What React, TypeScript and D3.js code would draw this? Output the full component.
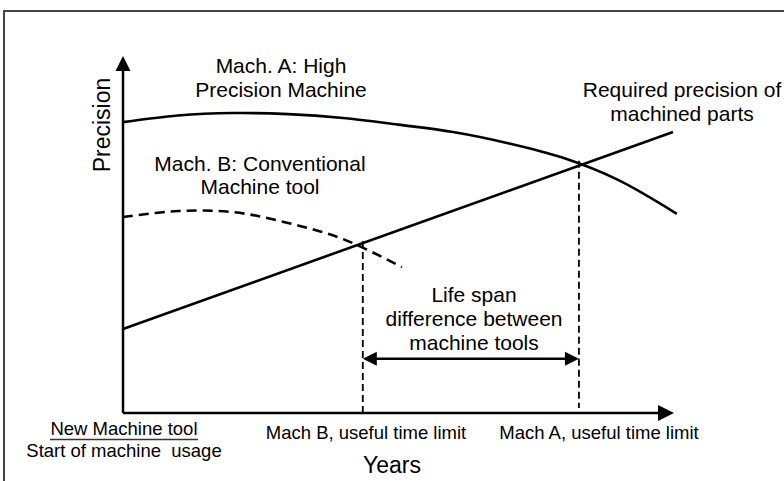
import React from 'react'
import * as d3 from 'd3'

// schematic values (x: years, y: precision, arbitrary units 0..10)
const yearsA = [0, 1, 2, 3, 4, 5, 6, 7, 8, 9, 10.07]
const precisionA = [8.31, 8.5, 8.57, 8.54, 8.43, 8.24, 8.03, 7.71, 7.29, 6.66, 5.69]
const yearsB = [0, 1, 2, 3, 4, 5.07]
const precisionB = [5.6, 5.77, 5.74, 5.43, 4.97, 4.17]
const yearsRequired = [0, 10]
const precisionRequired = [2.4, 8.03]
const limitB = 4.36
const limitA = 8.29
const spanLevel = 1.55

const W = 784
const H = 481
const FONT = "'Liberation Sans', Arial, sans-serif"

export default function App() {
  const x = d3.scaleLinear().domain([0, 10]).range([123, 673])
  const y = d3.scaleLinear().domain([0, 10]).range([413, 63])

  const line = d3.line<[number, number]>()
    .x(d => x(d[0]))
    .y(d => y(d[1]))
    .curve(d3.curveCatmullRom.alpha(0.5))

  const ptsA = yearsA.map((v, i) => [v, precisionA[i]] as [number, number])
  const ptsB = yearsB.map((v, i) => [v, precisionB[i]] as [number, number])
  const ptsR = yearsRequired.map((v, i) => [v, precisionRequired[i]] as [number, number])

  const reqAt = (t: number) =>
    precisionRequired[0] + (precisionRequired[1] - precisionRequired[0]) * (t - yearsRequired[0]) / (yearsRequired[1] - yearsRequired[0])

  const x0 = x(0), y0 = y(0)
  const yTop = 56, xEnd = 674
  const sy = y(spanLevel)
  const xa = x(limitA), xb = x(limitB)

  const txt = { fontFamily: FONT, fill: '#000' }

  return (
    <svg width={W} height={H} style={{ position: 'absolute', left: 0, top: 0 }}>
      <rect width={W} height={H} fill="#fff" />
      <path d={`M4,${H} V11 H${W}`} fill="none" stroke="#444" strokeWidth={2} />

      {/* axes */}
      <line x1={x0} y1={y0} x2={x0} y2={yTop + 14} stroke="#000" strokeWidth={2.5} />
      <polygon points={`${x0},${yTop} ${x0 - 7.5},${yTop + 15} ${x0 + 7.5},${yTop + 15}`} fill="#000" />
      <line x1={x0} y1={y0} x2={xEnd - 14} y2={y0} stroke="#000" strokeWidth={2.5} />
      <polygon points={`${xEnd},${y0} ${xEnd - 16},${y0 - 8} ${xEnd - 16},${y0 + 8}`} fill="#000" />

      {/* vertical limits */}
      <line x1={xb} y1={y(reqAt(limitB)) - 2} x2={xb} y2={y0} stroke="#000" strokeWidth={1.8} strokeDasharray="7,4" />
      <line x1={xa} y1={y(reqAt(limitA)) - 5} x2={xa} y2={y0 - 5} stroke="#000" strokeWidth={1.8} strokeDasharray="7,4" />

      {/* curves */}
      <path d={line(ptsA) || ''} fill="none" stroke="#000" strokeWidth={2.6} />
      <path d={line(ptsB) || ''} fill="none" stroke="#000" strokeWidth={2.6} strokeDasharray="10,6" />
      <path d={line(ptsR) || ''} fill="none" stroke="#000" strokeWidth={2.6} />

      {/* life span double arrow */}
      <line x1={xb + 12} y1={sy} x2={xa - 12} y2={sy} stroke="#000" strokeWidth={2.5} />
      <polygon points={`${xb},${sy} ${xb + 14},${sy - 7} ${xb + 14},${sy + 7}`} fill="#000" />
      <polygon points={`${xa},${sy} ${xa - 14},${sy - 7} ${xa - 14},${sy + 7}`} fill="#000" />

      {/* annotations */}
      <g {...txt} fontSize={21} textAnchor="middle">
        <text x={281} y={73}>Mach. A: High</text>
        <text x={281} y={97}>Precision Machine</text>
        <text x={260} y={171}>Mach. B: Conventional</text>
        <text x={260} y={194}>Machine tool</text>
        <text x={682} y={97}>Required precision of</text>
        <text x={682} y={121}>machined parts</text>
        <text x={474} y={302}>Life span</text>
        <text x={474} y={326}>difference between</text>
        <text x={474} y={350}>machine tools</text>
      </g>

      <g {...txt} fontSize={18.5} textAnchor="middle">
        <text x={124} y={435}>New Machine tool</text>
        <text x={124} y={457} style={{ whiteSpace: 'pre' }}>Start of machine  usage</text>
        <text x={366} y={439}>Mach B, useful time limit</text>
        <text x={599} y={439}>Mach A, useful time limit</text>
      </g>
      <line x1={50} y1={439.5} x2={198} y2={439.5} stroke="#333" strokeWidth={1.3} />

      <text {...txt} fontSize={23} textAnchor="middle" x={392} y={473}>Years</text>
      <text {...txt} fontSize={23} textAnchor="middle" transform="translate(110,125) rotate(-90)">Precision</text>
    </svg>
  )
}
